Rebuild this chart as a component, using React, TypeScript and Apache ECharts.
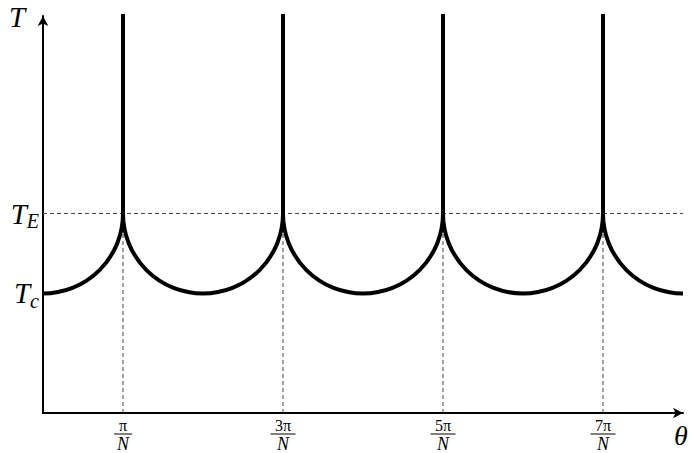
import React, { useEffect, useRef } from "react";
import * as echarts from "echarts";

// θ measured in units of π/N, temperature in arbitrary units
const THETA_MAX = 8;
const T_C = 1.5;
const T_E = 2.5;
const T_TOP = 5;
const Y_AXIS_MAX = 4.975;
const ARC_RADIUS = 1;

const spikeThetas = [1, 3, 5, 7];
const spikeNumerators = ["π", "3π", "5π", "7π"];
const arcCenters = [0, 2, 4, 6, 8];
const yTickValues = [T_C, T_E];
const yTickNames = [
  ["T", "c"],
  ["T", "E"],
];

const SERIF = "Liberation Serif";

export default function App() {
  const ref = useRef<HTMLDivElement>(null);

  useEffect(() => {
    if (!ref.current) return;
    const chart = echarts.init(ref.current, null, { renderer: "svg" });

    const option: any = {
      animation: false,
      backgroundColor: "#fff",
      grid: { left: 43, right: 8, top: 16, bottom: 39, containLabel: false },
      xAxis: {
        type: "value",
        min: 0,
        max: THETA_MAX,
        interval: 1,
        splitLine: { show: false },
        axisTick: { show: false },
        axisLine: {
          onZero: false,
          lineStyle: { color: "#000", width: 2 },
          symbol: ["none", "arrow"],
          symbolSize: [8, 10],
        },
        axisLabel: {
          margin: 6,
          interval: 0,
          formatter: (v: number) => {
            const i = spikeThetas.indexOf(v);
            if (i < 0) return "";
            const bar = spikeNumerators[i].length > 1 ? "b2" : "b1";
            return `{n|${spikeNumerators[i]}}\n{${bar}|}\n{d|N}`;
          },
          rich: {
            n: { fontFamily: SERIF, fontSize: 16, lineHeight: 13, color: "#000", align: "center" },
            b1: { width: 18, height: 1, lineHeight: 4, backgroundColor: "#000", align: "center" },
            b2: { width: 25, height: 1, lineHeight: 4, backgroundColor: "#000", align: "center" },
            d: { fontFamily: SERIF, fontStyle: "italic", fontSize: 18, lineHeight: 16, color: "#000", align: "center" },
          },
        },
      },
      yAxis: {
        type: "value",
        min: 0,
        max: Y_AXIS_MAX,
        interval: 0.5,
        splitLine: { show: false },
        axisTick: { show: false },
        axisLine: {
          lineStyle: { color: "#000", width: 2 },
          symbol: ["none", "arrow"],
          symbolSize: [8, 10],
        },
        axisLabel: {
          margin: 4,
          formatter: (v: number) => {
            const i = yTickValues.indexOf(v);
            if (i < 0) return "";
            return `{t|${yTickNames[i][0]}}{s|${yTickNames[i][1]}}`;
          },
          rich: {
            t: { fontFamily: SERIF, fontStyle: "italic", fontSize: 29, color: "#000", verticalAlign: "middle" },
            s: { fontFamily: SERIF, fontStyle: "italic", fontSize: 20, color: "#000", padding: [15, 0, 0, 0], verticalAlign: "middle" },
          },
        },
      },
      graphic: [
        {
          type: "text",
          left: 9,
          top: 2,
          style: { text: "T", fontFamily: SERIF, fontStyle: "italic", fontSize: 29, fill: "#000" },
        },
        {
          type: "text",
          left: 674,
          top: 421,
          style: { text: "θ", fontFamily: SERIF, fontStyle: "italic", fontSize: 28, fill: "#000" },
        },
      ],
      series: [
        {
          // horizontal guide at T_E
          type: "line",
          data: [
            [0, T_E],
            [THETA_MAX, T_E],
          ],
          symbol: "none",
          silent: true,
          z: 1,
          lineStyle: { color: "#444", width: 1, type: [4, 3] },
        },
        {
          // spikes: dashed guide below T_E, thick vertical above it
          type: "custom",
          data: spikeThetas.map((x) => [x]),
          silent: true,
          clip: false,
          z: 2,
          renderItem: (_params: any, api: any) => {
            const x = api.value(0);
            const base = api.coord([x, 0]);
            const mid = api.coord([x, T_E]);
            const top = api.coord([x, T_TOP]);
            return {
              type: "group",
              children: [
                {
                  type: "line",
                  shape: { x1: base[0], y1: base[1], x2: mid[0], y2: mid[1] },
                  style: { stroke: "#444", lineWidth: 1, lineDash: [4, 3] },
                  z2: 1,
                },
                {
                  type: "line",
                  shape: { x1: mid[0], y1: mid[1], x2: top[0], y2: top[1] },
                  style: { stroke: "#000", lineWidth: 4 },
                  z2: 5,
                },
              ],
            };
          },
        },
        {
          // circular arcs hanging between the spikes, bottoming out at T_c
          type: "custom",
          data: arcCenters.map((c) => [c]),
          silent: true,
          z: 3,
          renderItem: (_params: any, api: any) => {
            const c = api.value(0);
            const x0 = Math.max(c - ARC_RADIUS, 0);
            const x1 = Math.min(c + ARC_RADIUS, THETA_MAX);
            const p = api.coord([c, T_E]);
            const r = api.size([ARC_RADIUS, 0])[0];
            const startAngle = Math.acos((x1 - c) / ARC_RADIUS);
            const endAngle = Math.acos((x0 - c) / ARC_RADIUS);
            return {
              type: "arc",
              shape: { cx: p[0], cy: p[1], r, startAngle, endAngle, clockwise: true },
              style: { stroke: "#000", lineWidth: 4, fill: "none" },
            };
          },
        },
      ],
    };

    chart.setOption(option);
    return () => chart.dispose();
  }, []);

  return (
    <div
      ref={ref}
      style={{ position: "fixed", left: 0, top: 0, width: 691, height: 453 }}
    />
  );
}
